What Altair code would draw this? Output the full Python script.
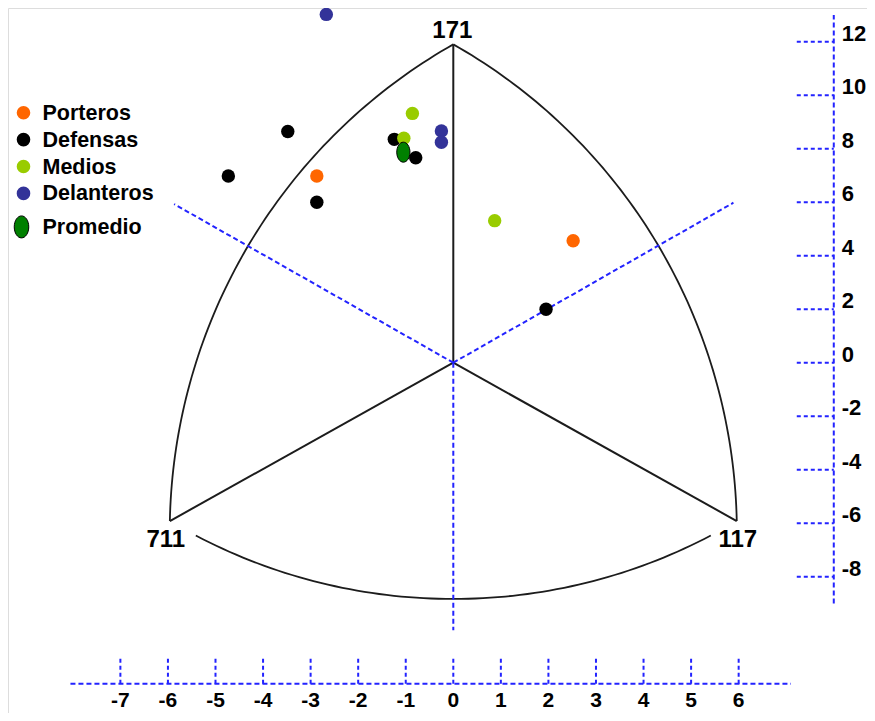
import math
import altair as alt
import pandas as pd

# ---------------- data ----------------
groups = ["Porteros", "Defensas", "Medios", "Delanteros"]
group_colors = ["#FF6600", "#000000", "#99CC00", "#333399"]

porteros_x = [-2.87, 2.52]
porteros_y = [6.98, 4.56]
defensas_x = [-3.48, -4.73, -2.87, -1.24, -0.79, 1.95]
defensas_y = [8.64, 6.98, 6.00, 8.35, 7.66, 2.00]
medios_x = [-0.86, -1.04, 0.87]
medios_y = [9.32, 8.39, 5.31]
delanteros_x = [-2.67, -0.25, -0.25]
delanteros_y = [13.02, 8.66, 8.24]

promedio_label = "Promedio"
promedio_x = [-1.05]
promedio_y = [7.87]

vertex_labels = ["171", "711", "117"]
vertex_x = [0.0, -5.96, 5.96]
vertex_y = [11.9, -5.92, -5.92]

guide_x = [-5.87, 5.89, 0.0]     # ends of the dashed blue lines from the centre
guide_y = [5.93, 5.98, -10.0]

x_ticks = list(range(-7, 7))
y_ticks = list(range(-8, 13, 2))

# ---------------- layout ----------------
W, H = 859, 705
KX, KY = 47.56, 26.75          # pixels per unit
X0, Y0 = 445.3, 354.7          # pixel position of (0, 0) in the plot area
xdom = [-X0 / KX, (W - X0) / KX]
ydom = [(Y0 - H) / KY, Y0 / KY]
XS = alt.Scale(domain=xdom, nice=False, zero=False)
YS = alt.Scale(domain=ydom, nice=False, zero=False)

XAXIS_Y = -12.0
YAXIS_X = 8.0
BLUE = "#2323ff"
DASH = [5, 3]
LINE = "#1c1c1c"
FONT = "Liberation Sans"


def X(f="x"):
    return alt.X(f, type="quantitative", scale=XS, axis=None)


def Y(f="y"):
    return alt.Y(f, type="quantitative", scale=YS, axis=None)


layers = []

# spokes from the centre to the vertices
spokes = pd.DataFrame({"x": [0.0] * 3, "y": [0.0] * 3, "x2": vertex_x, "y2": vertex_y})
layers.append(alt.Chart(spokes).mark_rule(color=LINE, strokeWidth=2).encode(
    x=X(), y=Y(), x2="x2:Q", y2="y2:Q"))

# Reuleaux-style arcs computed in pixel space from the vertices
P = [(vx * KX, vy * KY) for vx, vy in zip(vertex_x, vertex_y)]


def arc(a, b, c, n=80, trim=None):
    ang0 = math.atan2(a[1] - c[1], a[0] - c[0])
    ang1 = math.atan2(b[1] - c[1], b[0] - c[0])
    r0 = math.hypot(a[0] - c[0], a[1] - c[1])
    r1 = math.hypot(b[0] - c[0], b[1] - c[1])
    if ang1 - ang0 > math.pi:
        ang1 -= 2 * math.pi
    if ang0 - ang1 > math.pi:
        ang1 += 2 * math.pi
    pts = []
    for i in range(n + 1):
        t = i / n
        ang = ang0 + (ang1 - ang0) * t
        r = r0 + (r1 - r0) * t
        px = c[0] + r * math.cos(ang)
        py = c[1] + r * math.sin(ang)
        if trim is not None and abs(px) > trim:
            continue
        pts.append((px / KX, py / KY))
    return pts


rows = []
for k, (a, b, c, tr) in enumerate([(P[1], P[0], P[2], None),
                                   (P[0], P[2], P[1], None),
                                   (P[1], P[2], P[0], 262.0)]):
    for i, (x, y) in enumerate(arc(a, b, c, trim=tr)):
        rows.append({"x": x, "y": y, "o": i, "arc": k})
arcs = pd.DataFrame(rows)
layers.append(alt.Chart(arcs).mark_line(color=LINE, strokeWidth=1.8).encode(
    x=X(), y=Y(), order="o:Q", detail="arc:N"))

# dashed blue guide lines from the centre
guides = pd.DataFrame({"x": [0.0] * 3, "y": [0.0] * 3, "x2": guide_x, "y2": guide_y})
layers.append(alt.Chart(guides).mark_rule(color=BLUE, strokeWidth=2, strokeDash=DASH).encode(
    x=X(), y=Y(), x2="x2:Q", y2="y2:Q"))

# x axis (drawn)
xax = pd.DataFrame({"x": [-8.05], "x2": [7.1], "y": [XAXIS_Y]})
layers.append(alt.Chart(xax).mark_rule(color=BLUE, strokeWidth=2, strokeDash=DASH).encode(
    x=X(), x2="x2:Q", y=Y()))
xt = pd.DataFrame({"x": x_ticks, "y": [XAXIS_Y] * len(x_ticks),
                   "y2": [XAXIS_Y + 25 / KY] * len(x_ticks),
                   "lab": [str(t) for t in x_ticks]})
layers.append(alt.Chart(xt).mark_rule(color=BLUE, strokeWidth=2, strokeDash=[4, 3]).encode(
    x=X(), y=Y(), y2="y2:Q"))
layers.append(alt.Chart(xt).mark_text(font=FONT, fontWeight="bold", fontSize=21,
                                      baseline="alphabetic", align="center", color="black").encode(
    x=X(), y=alt.value(H - 6), text="lab:N"))

# y axis (drawn)
yax = pd.DataFrame({"x": [YAXIS_X], "y": [-9.0], "y2": [13.0]})
layers.append(alt.Chart(yax).mark_rule(color=BLUE, strokeWidth=2, strokeDash=DASH).encode(
    x=X(), y=Y(), y2="y2:Q"))
yt = pd.DataFrame({"x": [YAXIS_X - 37 / KX] * len(y_ticks), "x2": [YAXIS_X] * len(y_ticks),
                   "y": y_ticks, "lab": [str(t) for t in y_ticks]})
layers.append(alt.Chart(yt).mark_rule(color=BLUE, strokeWidth=2, strokeDash=[4, 3]).encode(
    x=X(), x2="x2:Q", y=Y()))
layers.append(alt.Chart(yt).mark_text(font=FONT, fontWeight="bold", fontSize=22, dx=8, dy=-1,
                                      baseline="alphabetic", align="left", color="black").encode(
    x=alt.X("x2:Q", scale=XS, axis=None), y=Y(), text="lab:N"))

# vertex labels
offs = [(-1, -6), (-4, 25.6), (1, 25.6)]
for lab, vx, vy, (ddx, ddy) in zip(vertex_labels, vertex_x, vertex_y, offs):
    d = pd.DataFrame({"x": [vx], "y": [vy], "lab": [lab]})
    layers.append(alt.Chart(d).mark_text(font=FONT, fontWeight="bold", fontSize=24, dx=ddx, dy=ddy,
                                         baseline="alphabetic", align="center", color="black").encode(
        x=X(), y=Y(), text="lab:N"))

# data points
series = [(porteros_x, porteros_y), (defensas_x, defensas_y),
          (medios_x, medios_y), (delanteros_x, delanteros_y)]
for g, col, (sx, sy) in zip(groups, group_colors, series):
    d = pd.DataFrame({"x": sx, "y": sy, "grupo": [g] * len(sx)})
    layers.append(alt.Chart(d).mark_circle(size=180, color=col, opacity=1).encode(
        x=X(), y=Y()))

ELLIPSE = "M 0 -1 A 0.66 1 0 1 1 0 1 A 0.66 1 0 1 1 0 -1 Z"
dprom = pd.DataFrame({"x": promedio_x, "y": promedio_y})
layers.append(alt.Chart(dprom).mark_point(shape=ELLIPSE, size=400, filled=True, fill="#008000",
                                          stroke="black", strokeWidth=1, opacity=1).encode(
    x=X(), y=Y()))

# legend (drawn)
LEG_SX, LEG_TX, LEG_Y0, LEG_DY = 15.5, 34.5, 104.7, 26.9
for i, (g, col) in enumerate(zip(groups, group_colors)):
    yy = LEG_Y0 + i * LEG_DY
    d = pd.DataFrame({"lab": [g]})
    layers.append(alt.Chart(d).mark_circle(size=185, color=col, opacity=1).encode(
        x=alt.value(LEG_SX), y=alt.value(yy)))
    layers.append(alt.Chart(d).mark_text(font=FONT, fontWeight="bold", fontSize=21.5, align="left",
                                         baseline="middle", color="black").encode(
        x=alt.value(LEG_TX), y=alt.value(yy + 1), text="lab:N"))
yy = LEG_Y0 + 3 * LEG_DY + 33.5
d = pd.DataFrame({"lab": [promedio_label]})
layers.append(alt.Chart(d).mark_point(shape=ELLIPSE, size=484, filled=True, fill="#008000",
                                      stroke="black", strokeWidth=1, opacity=1).encode(
    x=alt.value(LEG_SX - 2), y=alt.value(yy)))
layers.append(alt.Chart(d).mark_text(font=FONT, fontWeight="bold", fontSize=21.5, align="left",
                                     baseline="middle", color="black").encode(
    x=alt.value(LEG_TX), y=alt.value(yy + 1.5), text="lab:N"))

chart = alt.layer(*layers).properties(
    width=W, height=H, padding=0, autosize=alt.AutoSizeParams(type="none")
).configure_view(stroke=None).configure(background="white")

chart.save("out.html", embed_options={"renderer": "svg", "actions": False})
